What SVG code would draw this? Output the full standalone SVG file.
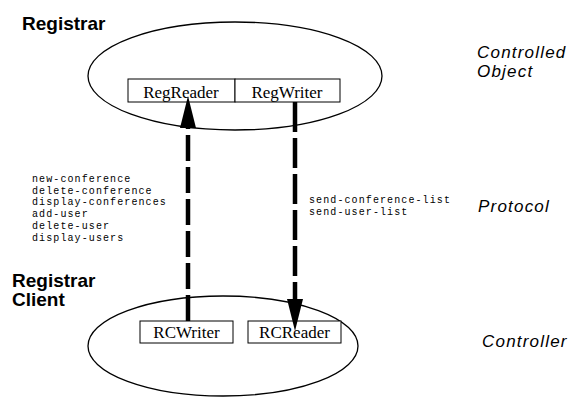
<svg xmlns="http://www.w3.org/2000/svg" width="574" height="402" viewBox="0 0 574 402">
<style>
.ell{fill:none;stroke:#000;stroke-width:1.3}
.box{fill:#fff;stroke:#000;stroke-width:1}
.bt{font-family:"Liberation Serif",serif;font-size:17px;text-anchor:middle;fill:#000}
.h{font-family:"Liberation Sans",Arial,sans-serif;font-weight:bold;font-size:19px;fill:#000}
.it{font-family:"Liberation Sans",Arial,sans-serif;font-style:italic;font-size:17px;letter-spacing:1.2px;fill:#000}
.mono{font-family:"Liberation Mono","Courier New",monospace;font-size:10px;letter-spacing:1.1px;fill:#000}
.shaft{fill:none;stroke:#000;stroke-width:4.5}
</style>
<defs>
<marker id="ah" viewBox="0 -8 32 16" markerWidth="32" markerHeight="16" refX="0" refY="0" orient="auto" markerUnits="userSpaceOnUse">
<path d="M0,-8 L32,0 L0,8 z" fill="#000"/>
</marker>
</defs>
<rect width="574" height="402" fill="#fff"/>
<g id="registrar">
<ellipse class="ell" cx="235" cy="76" rx="147" ry="54"/>
<text class="h" x="22" y="30">Registrar</text>
</g>
<g id="regreader">
<rect class="box" x="128" y="79" width="107" height="23"/>
<text class="bt" x="181" y="98">RegReader</text>
</g>
<g id="regwriter">
<rect class="box" x="235" y="79" width="105" height="23"/>
<text class="bt" x="287" y="98">RegWriter</text>
</g>
<g id="registrar-client">
<ellipse class="ell" cx="223" cy="346" rx="135" ry="50"/>
<text class="h" x="12" y="287">Registrar</text>
<text class="h" x="12" y="306">Client</text>
</g>
<g id="rcwriter">
<rect class="box" x="140" y="321" width="93" height="22"/>
<text class="bt" x="186.5" y="338">RCWriter</text>
</g>
<g id="rcreader">
<rect class="box" x="248" y="321" width="93" height="22"/>
<text class="bt" x="294.5" y="338">RCReader</text>
</g>
<g id="labels">
<text class="it" x="477" y="58">Controlled</text>
<text class="it" x="477" y="77">Object</text>
<text class="it" x="478" y="212">Protocol</text>
<text class="it" x="482" y="347">Controller</text>
</g>
<g id="messages">
<text class="mono" x="32" y="182">new-conference</text>
<text class="mono" x="32" y="193.7">delete-conference</text>
<text class="mono" x="32" y="205.4">display-conferences</text>
<text class="mono" x="32" y="217.1">add-user</text>
<text class="mono" x="32" y="228.8">delete-user</text>
<text class="mono" x="32" y="240.5">display-users</text>
<text class="mono" x="309" y="203">send-conference-list</text>
<text class="mono" x="309" y="214.6">send-user-list</text>
</g>
<g id="connectors">
<path class="shaft" d="M188,321 L188,128" stroke-dasharray="26 6" marker-end="url(#ah)"/>
<path class="shaft" d="M295,102 L295,299" stroke-dasharray="30 6" marker-end="url(#ah)"/>
</g>
</svg>
